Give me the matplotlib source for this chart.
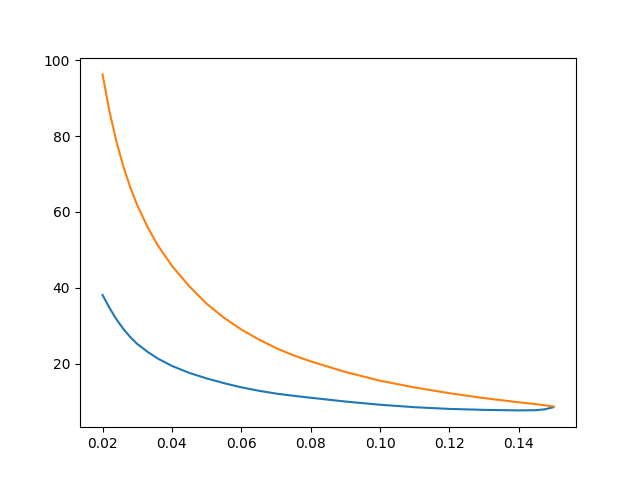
import matplotlib
matplotlib.use('Agg')
import matplotlib.pyplot as plt

# values
x = [0.020, 0.022, 0.024, 0.026, 0.028, 0.030, 0.033, 0.036, 0.040, 0.045,
     0.050, 0.055, 0.060, 0.065, 0.070, 0.075, 0.080, 0.090, 0.100, 0.110,
     0.120, 0.130, 0.140, 0.145, 0.1475, 0.150]
blue = [38.1, 34.7, 31.7, 29.15, 27.0, 25.2, 23.1, 21.3, 19.4, 17.55,
        16.1, 14.85, 13.75, 12.85, 12.1, 11.52, 11.0, 10.0, 9.15, 8.5,
        8.05, 7.8, 7.66, 7.72, 7.95, 8.5]
orange = [96.3, 86.5, 78.6, 72.0, 66.5, 61.8, 56.0, 51.1, 45.8, 40.4,
          35.8, 32.1, 29.0, 26.4, 24.1, 22.2, 20.6, 17.8, 15.5, 13.7,
          12.2, 10.9, 9.8, 9.3, 9.0, 8.7]

fig, ax = plt.subplots(figsize=(6.4, 4.8), dpi=100)
ax.plot(x, blue)
ax.plot(x, orange)

fig.savefig('out.png')
